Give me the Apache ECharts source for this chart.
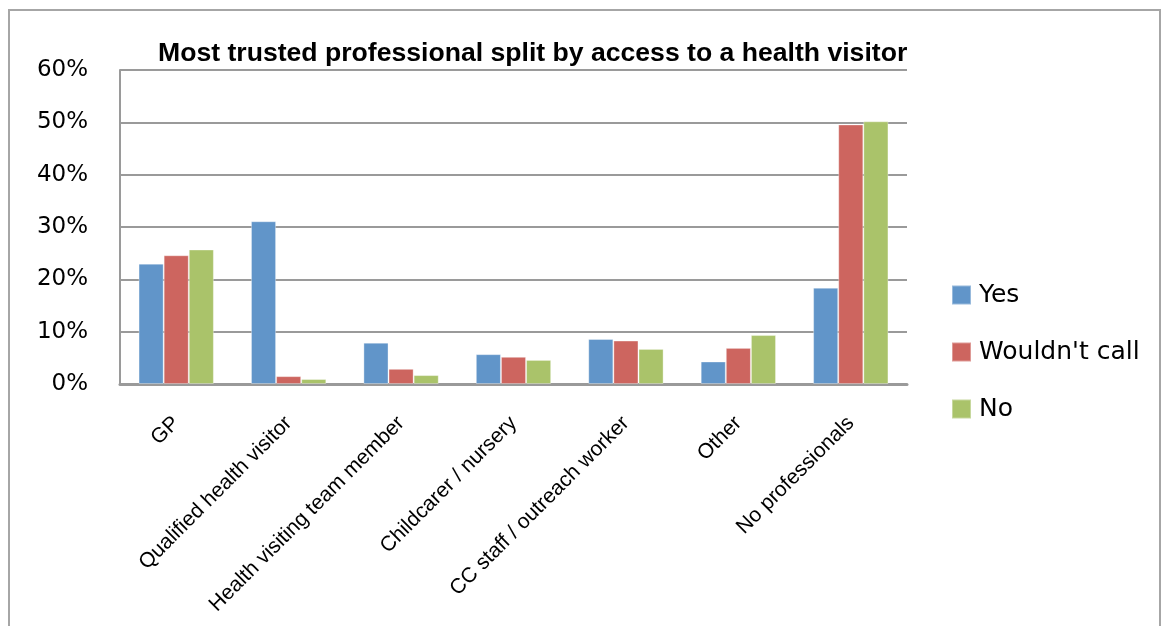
<!DOCTYPE html>
<html>
<head>
<meta charset="utf-8">
<style>
  html, body { margin: 0; padding: 0; background: #ffffff; }
  #chart { width: 1170px; height: 626px; }
</style>
<script src="https://cdn.jsdelivr.net/npm/echarts@6/dist/echarts.min.js"></script>
</head>
<body>
<div id="chart"></div>
<script>
// Most trusted professional, split by whether the respondent has access to a health visitor (%)
const categories = [
  'GP',
  'Qualified health visitor',
  'Health visiting team member',
  'Childcarer / nursery',
  'CC staff / outreach worker',
  'Other',
  'No professionals'
];
const yesValues          = [23.0, 31.1, 7.9, 5.7, 8.6, 4.3, 18.4];
const wouldntCallValues  = [24.6, 1.5, 2.9, 5.2, 8.3, 6.9, 49.6];
const noValues           = [25.7, 0.95, 1.7, 4.6, 6.7, 9.35, 50.2];
const seriesNames = ['Yes', "Wouldn't call", 'No'];
const seriesColors = ['#6195C9', '#CD655F', '#AAC36A'];
const yTicks = { min: 0, max: 60, interval: 10 };

const chart = echarts.init(document.getElementById('chart'));

const valueSets = [yesValues, wouldntCallValues, noValues];

chart.setOption({
  backgroundColor: '#ffffff',
  animation: false,
  title: {
    text: 'Most trusted professional split by access to a health visitor',
    left: 153,
    top: 35,
    textStyle: {
      fontFamily: 'Liberation Sans',
      fontWeight: 'bold',
      fontSize: 26.6,
      color: '#000000'
    }
  },
  graphic: [{
    type: 'rect',
    shape: { x: 9, y: 10, width: 1151, height: 640 },
    style: { fill: 'none', stroke: '#a6a6a6', lineWidth: 2 },
    silent: true,
    z: -10
  }],
  legend: {
    orient: 'vertical',
    left: 946,
    top: 277,
    itemWidth: 19,
    itemHeight: 19,
    itemGap: 31,
    icon: 'rect',
    textStyle: {
      fontFamily: 'DejaVu Sans',
      fontSize: 25,
      lineHeight: 26,
      color: '#000000',
      padding: [0, 0, 0, 3]
    },
    data: seriesNames
  },
  grid: {
    left: 120,
    right: 263,
    top: 70,
    bottom: 242,
    containLabel: false
  },
  xAxis: {
    type: 'category',
    data: categories,
    axisLine: { show: true, lineStyle: { color: '#9a9a9a', width: 3 } },
    axisTick: { show: false },
    axisLabel: {
      rotate: 45,
      margin: 36,
      interval: 0,
      fontFamily: 'Liberation Sans',
      fontSize: 21,
      color: '#000000'
    }
  },
  yAxis: {
    type: 'value',
    min: yTicks.min,
    max: yTicks.max,
    interval: yTicks.interval,
    axisLine: { show: true, lineStyle: { color: '#9a9a9a', width: 2 } },
    axisTick: { show: false },
    splitLine: { show: true, lineStyle: { color: '#9a9a9a', width: 2 } },
    axisLabel: {
      formatter: '{value}%',
      margin: 32,
      fontFamily: 'DejaVu Sans',
      fontSize: 23,
      color: '#000000'
    }
  },
  series: seriesNames.map((name, i) => ({
    name: name,
    type: 'bar',
    data: valueSets[i],
    barGap: '0%',
    barCategoryGap: '33%',
    itemStyle: {
      color: seriesColors[i],
      borderColor: 'rgba(255,255,255,0.35)',
      borderWidth: 1
    }
  }))
});
</script>
</body>
</html>
